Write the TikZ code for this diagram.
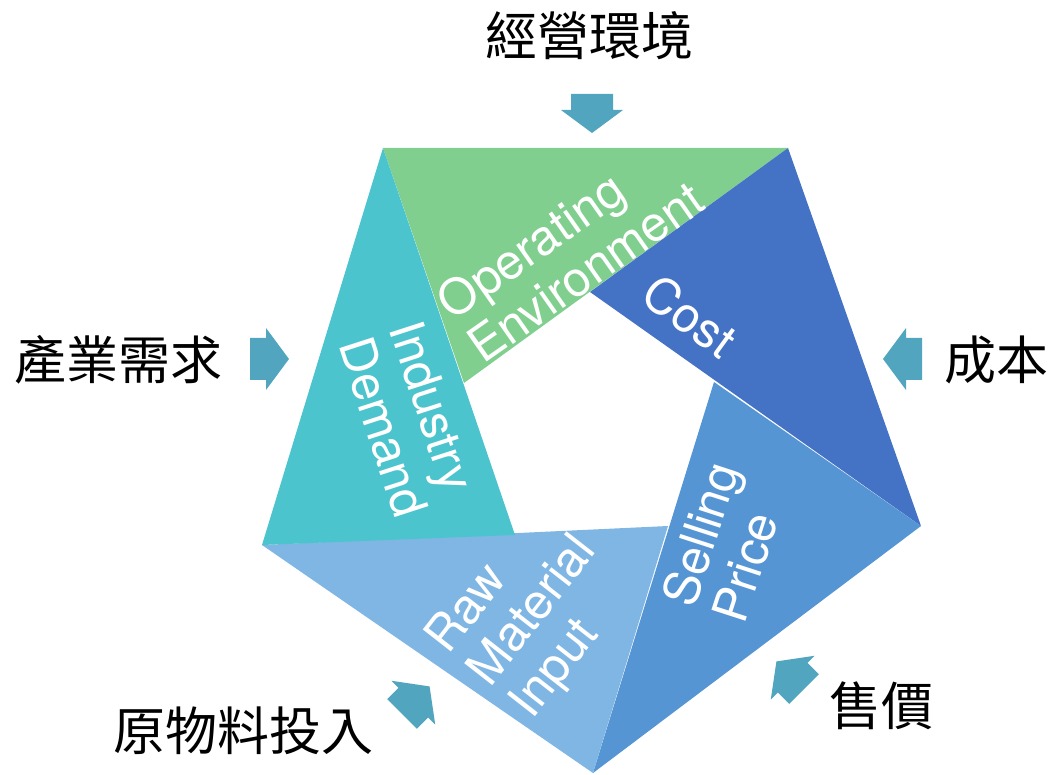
\documentclass[tikz,border=0pt]{standalone}
\usepackage{fontspec}
\setmainfont{TeX Gyre Heros}
\newfontfamily\cjk{Noto Sans CJK TC}
\definecolor{cgreen}{HTML}{80CF8F}
\definecolor{ccost}{HTML}{4472C4}
\definecolor{csell}{HTML}{5595D4}
\definecolor{craw}{HTML}{80B6E4}
\definecolor{cind}{HTML}{4CC4CD}
\definecolor{carrow}{HTML}{52A5BE}
\begin{document}
\begin{tikzpicture}[x=1pt,y=-1pt,
  lbl/.style={text=white, font=\fontsize{49}{53}\selectfont, align=left, inner sep=0pt},
  cjklabel/.style={font=\cjk\fontsize{52}{56}\selectfont, inner sep=0pt},
  fatarrow/.style={fill=carrow}]
\useasboundingbox (0,0) rectangle (1052,775);
\coordinate (A) at (383,148);
\coordinate (B) at (788,148);
\coordinate (C) at (921,526);
\coordinate (D) at (593,773);
\coordinate (E) at (262,545);
\coordinate (iA) at (464,383);
\coordinate (iB) at (590,292);
\coordinate (iC) at (714,382);
\coordinate (iD) at (668,526);
\coordinate (iE) at (515,535);
\fill[cgreen] (A) -- (B) -- (iA) -- cycle;
\fill[ccost] (B) -- (C) -- (iB) -- cycle;
\fill[csell] (C) -- (D) -- (iC) -- cycle;
\fill[craw] (D) -- (E) -- (iD) -- cycle;
\fill[cind] (E) -- (A) -- (iE) -- cycle;
\node[lbl, rotate=35] (op) at (570,250) {Operating\\Environment};
\node[lbl, rotate=-36] (cost) at (690,316) {Cost};
\node[lbl, rotate=-72] (ind) at (409,419) {Industry\\Demand};
\node[lbl, rotate=72] (sell) at (725,542) {Selling\\Price};
\node[lbl, rotate=52] (raw) at (534,612) {Raw\\Material\\Input};
\foreach \px/\py/\ang in {592/94/-90, 250/359/0, 922/359/180, 402/714/45, 804/689/135}{
  \begin{scope}[shift={(\px,\py)}, rotate=\ang]
    \fill[fatarrow] (0,-21) -- (16,-21) -- (16,-31) -- (39,0) -- (16,31) -- (16,21) -- (0,21) -- cycle;
  \end{scope}
}
\node[cjklabel] (t1) at (589,36) {經營環境};
\node[cjklabel] (t2) at (118,360) {產業需求};
\node[cjklabel] (t3) at (996,360) {成本};
\node[cjklabel] (t4) at (881,706) {售價};
\node[cjklabel] (t5) at (243,731) {原物料投入};
\end{tikzpicture}
\end{document}
